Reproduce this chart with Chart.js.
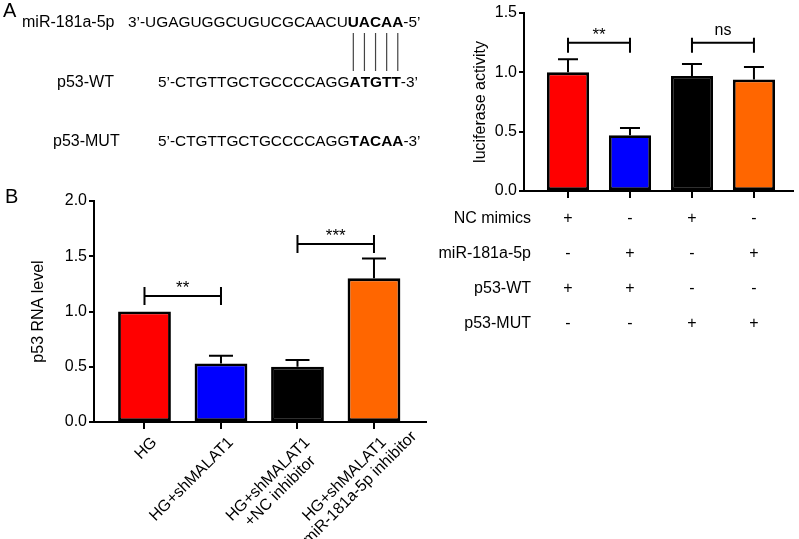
<!DOCTYPE html>
<html>
<head>
<meta charset="utf-8">
<script src="https://cdn.jsdelivr.net/npm/chart.js@4.4.1/dist/chart.umd.min.js"></script>
<style>
  body { margin: 0; background: #fff; }
  #wrap { position: relative; width: 799px; height: 539px; }
  canvas { position: absolute; left: 0; top: 0; }
</style>
</head>
<body>
<div id="wrap">
  <canvas id="chartB" width="799" height="539"></canvas>
  <canvas id="chartA" width="799" height="539"></canvas>
</div>
<script>
// ---- panel A: luciferase assay ----
const conditionNames = ['NC mimics', 'miR-181a-5p', 'p53-WT', 'p53-MUT'];
const ncMimics = ['+', '-', '+', '-'];
const mir181 = ['-', '+', '-', '+'];
const p53wt = ['+', '+', '-', '-'];
const p53mut = ['-', '-', '+', '+'];
const lucValues = [1.0, 0.47, 0.97, 0.94];
const lucErrTop = [1.11, 0.53, 1.07, 1.045];
const lucSig = [
  { from: 1, to: 2, at: 1.25, text: '**' },
  { from: 3, to: 4, at: 1.25, text: 'ns' }
];

// sequences shown above the chart
const seqNames = ['miR-181a-5p', 'p53-WT', 'p53-MUT'];
const seqPre = ['3\u2019-UGAGUGGCUGUCGCAACU', '5\u2019-CTGTTGCTGCCCCAGG', '5\u2019-CTGTTGCTGCCCCAGG'];
const seqCore = ['UACAA', 'ATGTT', 'TACAA'];
const seqPost = ['-5\u2019', '-3\u2019', '-3\u2019'];

// ---- panel B: p53 RNA level ----
const rnaLabels = [
  ['HG'],
  ['HG+shMALAT1'],
  ['HG+shMALAT1', '+NC inhibitor'],
  ['HG+shMALAT1', '+miR-181a-5p inhibitor']
];
const rnaValues = [1.0, 0.53, 0.50, 1.30];
const rnaErrTop = [null, 0.60, 0.56, 1.48];
const rnaSig = [
  { from: 1, to: 2, at: 1.14, text: '**' },
  { from: 3, to: 4, at: 1.61, text: '***' }
];

const barColors = ['#ff0000', '#0000ff', '#000000', '#ff6600'];
const FONT = '"Liberation Sans", Arial, Helvetica, sans-serif';

Chart.defaults.font.family = FONT;
Chart.defaults.font.size = 16;
Chart.defaults.color = '#000';

function drawErrors(chart, errs, cap) {
  const ctx = chart.ctx, ys = chart.scales.y;
  const meta = chart.getDatasetMeta(0);
  ctx.save();
  ctx.strokeStyle = '#000';
  ctx.lineWidth = 2;
  errs.forEach((e, i) => {
    if (e == null) return;
    const bar = meta.data[i];
    const ey = ys.getPixelForValue(e);
    ctx.beginPath();
    ctx.moveTo(bar.x, bar.y);
    ctx.lineTo(bar.x, ey);
    ctx.moveTo(bar.x - cap, ey);
    ctx.lineTo(bar.x + cap, ey);
    ctx.stroke();
  });
  ctx.restore();
}

function drawBrackets(chart, sig, up, down) {
  const ctx = chart.ctx, xs = chart.scales.x, ys = chart.scales.y;
  ctx.save();
  ctx.strokeStyle = '#000';
  ctx.fillStyle = '#000';
  ctx.lineWidth = 2;
  sig.forEach(s => {
    const x1 = xs.getPixelForValue(s.from), x2 = xs.getPixelForValue(s.to);
    const py = ys.getPixelForValue(s.at);
    ctx.beginPath();
    ctx.moveTo(x1, py - up); ctx.lineTo(x1, py + down);
    ctx.moveTo(x1, py); ctx.lineTo(x2, py);
    ctx.moveTo(x2, py - up); ctx.lineTo(x2, py + down);
    ctx.stroke();
    ctx.font = (s.text === 'ns' ? '16px ' : '17px ') + FONT;
    ctx.textAlign = 'center';
    ctx.textBaseline = 'alphabetic';
    const m = ctx.measureText(s.text);
    const mid = py - 12;
    ctx.fillText(s.text, (x1 + x2) / 2, mid + (m.actualBoundingBoxAscent - m.actualBoundingBoxDescent) / 2);
  });
  ctx.restore();
}

const panelA = {
  id: 'panelA',
  afterDraw(chart) {
    const ctx = chart.ctx, xs = chart.scales.x;
    drawErrors(chart, lucErrTop, 10);
    drawBrackets(chart, lucSig, 5, 10);

    // condition table under the bars
    ctx.save();
    ctx.fillStyle = '#000';
    ctx.font = '16px ' + FONT;
    ctx.textBaseline = 'middle';
    [ncMimics, mir181, p53wt, p53mut].forEach((row, k) => {
      const cy = 219 + k * 34.7;
      ctx.textAlign = 'right';
      ctx.fillText(conditionNames[k], 531, cy);
      ctx.textAlign = 'center';
      row.forEach((s, i) => ctx.fillText(s, xs.getPixelForValue(i + 1), cy));
    });

    // sequence alignment
    const nameX = [22, 57, 53];
    const seqX = [128, 158, 158];
    const rowY = [23, 83, 142];
    const seqFont = '15.4px ' + FONT;
    const seqBold = 'bold 15.4px ' + FONT;
    const coreCenters = [];
    ctx.textAlign = 'left';
    seqNames.forEach((name, k) => {
      ctx.font = '16px ' + FONT;
      ctx.fillText(name, nameX[k], rowY[k]);
      let x = seqX[k];
      ctx.font = seqFont;
      ctx.fillText(seqPre[k], x, rowY[k]);
      x += ctx.measureText(seqPre[k]).width;
      ctx.font = seqBold;
      for (const ch of seqCore[k]) {
        const w = ctx.measureText(ch).width;
        ctx.fillText(ch, x, rowY[k]);
        if (k === 0) coreCenters.push(x + w / 2);
        x += w;
      }
      ctx.font = seqFont;
      ctx.fillText(seqPost[k], x, rowY[k]);
    });
    ctx.strokeStyle = '#444';
    ctx.lineWidth = 1.2;
    coreCenters.forEach(cx => {
      ctx.beginPath();
      ctx.moveTo(cx, 33);
      ctx.lineTo(cx, 71);
      ctx.stroke();
    });

    ctx.font = '20px ' + FONT;
    ctx.fillText('A', 3, 11);
    ctx.restore();
  }
};

const panelB = {
  id: 'panelB',
  afterDraw(chart) {
    const ctx = chart.ctx, xs = chart.scales.x;
    drawErrors(chart, rnaErrTop, 12);
    drawBrackets(chart, rnaSig, 9, 9);

    // rotated category labels
    ctx.save();
    ctx.fillStyle = '#000';
    ctx.font = '16px ' + FONT;
    ctx.textBaseline = 'alphabetic';
    rnaLabels.forEach((lines, i) => {
      const tx = xs.getPixelForValue(i + 1);
      const w1 = ctx.measureText(lines[0]).width;
      ctx.save();
      ctx.translate(tx + 5, chart.chartArea.bottom + 13);
      ctx.rotate(-Math.PI / 4);
      ctx.textAlign = 'right';
      ctx.fillText(lines[0], 0, 11.5);
      ctx.textAlign = 'center';
      for (let k = 1; k < lines.length; k++) {
        ctx.fillText(lines[k], -w1 / 2, 11.5 + 17 * k);
      }
      ctx.restore();
    });
    ctx.font = '20px ' + FONT;
    ctx.textAlign = 'left';
    ctx.textBaseline = 'middle';
    ctx.fillText('B', 5, 197);
    ctx.restore();
  }
};

function barChart(id, values, yMax, xMin, xMax, yTitle, yWidth, padding, barPct, plugin) {
  return new Chart(document.getElementById(id), {
    type: 'bar',
    data: {
      datasets: [{
        data: values.map((v, i) => ({ x: i + 1, y: v })),
        backgroundColor: barColors,
        borderColor: '#000',
        borderWidth: 2.8,
        borderSkipped: false,
        barPercentage: barPct,
        categoryPercentage: 1
      }]
    },
    options: {
      responsive: false,
      animation: false,
      devicePixelRatio: 1,
      layout: { padding: padding },
      plugins: { legend: { display: false }, tooltip: { enabled: false } },
      scales: {
        x: {
          type: 'linear',
          min: xMin,
          max: xMax,
          offset: false,
          afterBuildTicks: s => { s.ticks = values.map((_, i) => ({ value: i + 1 })); },
          afterFit: s => { s.height = 8; },
          ticks: { display: false },
          border: { color: '#000', width: 2 },
          grid: { drawOnChartArea: false, offset: false, tickLength: 7, color: '#000', lineWidth: 2 }
        },
        y: {
          min: 0,
          max: yMax,
          afterFit: s => { s.width = yWidth; },
          ticks: { stepSize: 0.5, padding: 2, callback: v => v.toFixed(1) },
          border: { color: '#000', width: 2 },
          grid: { drawOnChartArea: false, tickLength: 5, color: '#000', lineWidth: 2 },
          title: { display: true, text: yTitle, padding: 0, font: { size: 16 } }
        }
      }
    },
    plugins: [plugin]
  });
}

barChart('chartA', lucValues, 1.5, 0.29, 4.63, 'luciferase activity', 53,
  { left: 471, top: 13, right: 6, bottom: 340 }, 0.68, panelA);
barChart('chartB', rnaValues, 2.0, 0.34, 4.68, 'p53 RNA level', 65,
  { left: 29, top: 201, right: 373, bottom: 109 }, 0.69, panelB);
</script>
</body>
</html>
